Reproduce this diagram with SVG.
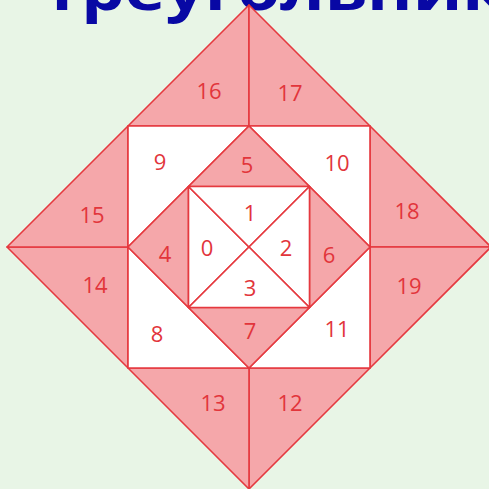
<svg xmlns="http://www.w3.org/2000/svg" width="489" height="489" viewBox="0 0 489 489">
<style>
.p{fill:#f5a7aa;stroke:#e5393f;stroke-width:1.6;stroke-linejoin:round}
.w{fill:#ffffff;stroke:#e5393f;stroke-width:1.6;stroke-linejoin:round}
.n{font-family:"Open Sans","Liberation Sans",sans-serif;font-size:22px;fill:#e2353b;text-anchor:middle;dominant-baseline:central}
.title{font-family:"Open Sans","Liberation Sans",sans-serif;font-weight:700;font-size:58px;fill:#0808a4}
</style>
<rect width="489" height="489" fill="#e8f5e6"/>
<text class="title" x="43" y="10" textLength="462" lengthAdjust="spacingAndGlyphs">треугольник</text>
<g id="t16"><polygon class="p" points="249,5 128,126 249,126"/><text class="n" x="209" y="90">16</text></g>
<g id="t17"><polygon class="p" points="249,5 370,126 249,126"/><text class="n" x="290" y="92">17</text></g>
<g id="t18"><polygon class="p" points="491,247 370,126 370,247"/><text class="n" x="407" y="210">18</text></g>
<g id="t19"><polygon class="p" points="491,247 370,247 370,368"/><text class="n" x="409" y="285">19</text></g>
<g id="t12"><polygon class="p" points="249,489 249,368 370,368"/><text class="n" x="290" y="402">12</text></g>
<g id="t13"><polygon class="p" points="249,489 128,368 249,368"/><text class="n" x="213" y="402">13</text></g>
<g id="t14"><polygon class="p" points="7,247 128,247 128,368"/><text class="n" x="95" y="284">14</text></g>
<g id="t15"><polygon class="p" points="7,247 128,126 128,247"/><text class="n" x="92" y="214">15</text></g>
<g id="t9"><polygon class="w" points="128,126 249,126 128,247"/><text class="n" x="160" y="161">9</text></g>
<g id="t10"><polygon class="w" points="249,126 370,126 370,247"/><text class="n" x="337" y="162">10</text></g>
<g id="t11"><polygon class="w" points="370,247 370,368 249,368"/><text class="n" x="337" y="328">11</text></g>
<g id="t8"><polygon class="w" points="128,247 249,368 128,368"/><text class="n" x="157" y="333">8</text></g>
<g id="t5"><polygon class="p" points="249,126 309.5,186.5 188.5,186.5"/><text class="n" x="247" y="164">5</text></g>
<g id="t6"><polygon class="p" points="370,247 309.5,186.5 309.5,307.5"/><text class="n" x="329" y="254">6</text></g>
<g id="t7"><polygon class="p" points="249,368 188.5,307.5 309.5,307.5"/><text class="n" x="250" y="330">7</text></g>
<g id="t4"><polygon class="p" points="128,247 188.5,186.5 188.5,307.5"/><text class="n" x="165" y="253">4</text></g>
<g id="t0"><polygon class="w" points="188.5,186.5 249,247 188.5,307.5"/><text class="n" x="207" y="247">0</text></g>
<g id="t1"><polygon class="w" points="188.5,186.5 309.5,186.5 249,247"/><text class="n" x="250" y="212">1</text></g>
<g id="t2"><polygon class="w" points="309.5,186.5 309.5,307.5 249,247"/><text class="n" x="286" y="247">2</text></g>
<g id="t3"><polygon class="w" points="188.5,307.5 309.5,307.5 249,247"/><text class="n" x="250" y="287">3</text></g>
<g id="connectors"></g>
</svg>
